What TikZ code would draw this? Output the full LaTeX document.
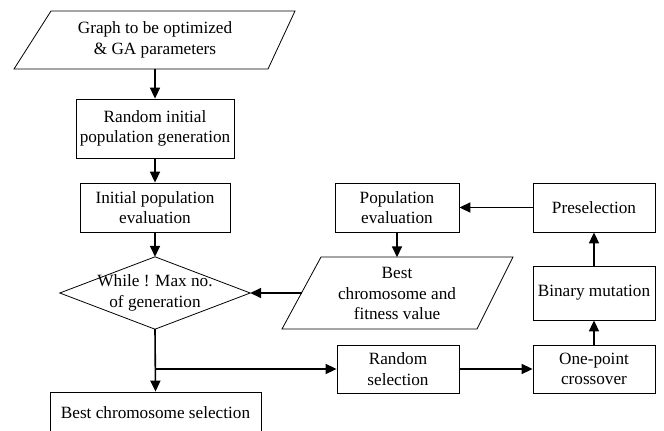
\documentclass[tikz,border=0pt]{standalone}
\usepackage{fontspec}
\setmainfont{Liberation Serif}
\usetikzlibrary{arrows.meta,calc}
\begin{document}
\begin{tikzpicture}[x=1pt,y=-1pt,
  txt/.style={align=center,inner sep=0pt,font=\fontsize{17.2}{20.5}\selectfont},
  box/.style={txt,draw,line width=0.8pt},
  shp/.style={draw,line width=0.8pt},
  arr/.style={line width=1.6pt,-{Triangle[length=11pt,width=10pt]}},
  ln/.style={line width=1.6pt}]
\useasboundingbox (0,0) rectangle (664,431);
\clip (0,0) rectangle (664,431);
% input parallelogram
\node[txt,minimum height=58pt] (inp) at (155,40) {Graph to be optimized\\\& GA parameters};
\draw[shp] (51,11) -- (295,11) -- (268,69) -- (14,69) -- cycle;
% boxes
\node[box,minimum width=158pt,minimum height=59pt] (rand) at (155,128.5) {Random initial\\population generation};
\node[box,minimum width=150pt,minimum height=49pt] (init) at (155,207.5) {Initial population\\evaluation};
\node[txt,minimum width=190pt,minimum height=72pt] (wh) at (155,293) {While ! Max no.\\of generation};
\draw[shp] (wh.north) -- (wh.east) -- (wh.south) -- (wh.west) -- cycle;
\node[box,minimum width=211pt,minimum height=42pt] (best) at (155.5,413) {Best chromosome selection};
\node[box,minimum width=124pt,minimum height=49pt] (popev) at (397,207.5) {Population\\evaluation};
\node[box,minimum width=122pt,minimum height=49pt] (presel) at (594,207.5) {Preselection};
\node[box,minimum width=122pt,minimum height=54pt] (binmut) at (594,293) {Binary mutation};
\node[box,minimum width=122pt,minimum height=48pt] (cross) at (594,369) {One-point\\crossover};
\node[box,minimum width=122pt,minimum height=48pt] (randsel) at (398,369) {Random\\selection};
% best fitness parallelogram
\node[txt,minimum height=72pt] (bfit) at (397,293.5) {Best\\chromosome and\\fitness value};
\draw[shp] (321,257) -- (513,257) -- (477,329) -- (282,329) -- cycle;
\coordinate (bfW) at (301.5,293);
% connectors
\draw[arr] (inp.south) -- (rand.north);
\draw[arr] (rand.south) -- (init.north);
\draw[arr] (init.south) -- (wh.north);
\draw[arr] (wh.south) -- (best.north);
\coordinate (br) at (wh.south |- randsel.west);
\draw[arr] (br) -- (randsel.west);
\draw[arr] (randsel.east) -- (cross.west);
\draw[arr] (cross.north) -- (binmut.south);
\draw[arr] (binmut.north) -- (presel.south);
\draw[arr] (presel.west) -- (popev.east);
\draw[arr] (popev.south) -- (bfit.north);
\draw[arr] (bfW) -- (wh.east);
\end{tikzpicture}
\end{document}
